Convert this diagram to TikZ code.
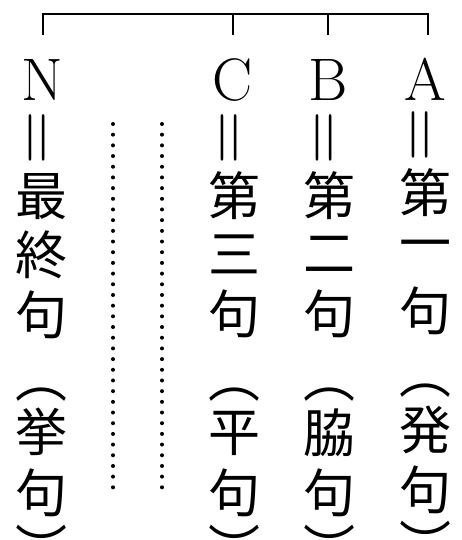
\documentclass[tikz,border=0pt]{standalone}
\usepackage{fontspec}
\newfontfamily\cjk{Noto Sans CJK JP}
\begin{document}
\begin{tikzpicture}[x=1pt,y=-1pt,
  glyph/.style={inner sep=0pt, font=\cjk\fontsize{52}{52}\selectfont},
  letter/.style={inner sep=0pt, font=\fontsize{60}{60}\selectfont},
  dbl/.style={inner sep=0pt, font=\fontsize{74}{74}\selectfont, rotate=90},
  bracketline/.style={line width=1.3pt},
  dotline/.style={line width=4pt, line cap=round, dash pattern=on 0pt off 10.686pt}]
\useasboundingbox (0,0) rectangle (462,540);
% bracket
\coordinate (tN) at (43,14);
\coordinate (tC) at (233,14);
\coordinate (tB) at (328,14);
\coordinate (tA) at (428,14);
\coordinate (bN) at (43,35);
\coordinate (bC) at (233,35);
\coordinate (bB) at (328,35);
\coordinate (bA) at (428,35);
\draw[bracketline] (bN) -- (tN) -- (tA) -- (bA);
\draw[bracketline] (tC) -- (bC);
\draw[bracketline] (tB) -- (bB);
% letters
\node[letter] (N) at (42,80) {N};
\node[letter] (C) at (233,80) {C};
\node[letter] (B) at (328,80) {B};
\node[letter] (A) at (425,79) {A};
% double bars
\node[dbl] (eN) at (42,138) {=};
\node[dbl] (eC) at (234,138) {=};
\node[dbl] (eB) at (329,138) {=};
\node[dbl] (eA) at (425,135) {=};
% column N
\node[glyph] (n1) at (42,197) {最};
\node[glyph] (n2) at (42,255) {終};
\node[glyph] (n3) at (42,315) {句};
\node[glyph] (n4) at (42,395) {︵};
\node[glyph] (n5) at (42,432) {挙};
\node[glyph] (n6) at (42,493) {句};
\node[glyph] (n7) at (42,547) {︶};
% column C
\node[glyph] (c1) at (234,196) {第};
\node[glyph] (c2) at (234,254) {三};
\node[glyph] (c3) at (234,314) {句};
\node[glyph] (c4) at (234,395) {︵};
\node[glyph] (c5) at (234,433) {平};
\node[glyph] (c6) at (234,493) {句};
\node[glyph] (c7) at (234,547) {︶};
% column B
\node[glyph] (b1) at (329,196) {第};
\node[glyph] (b2) at (329,254) {二};
\node[glyph] (b3) at (329,314) {句};
\node[glyph] (b4) at (329,395) {︵};
\node[glyph] (b5) at (329,433) {脇};
\node[glyph] (b6) at (329,493) {句};
\node[glyph] (b7) at (329,547) {︶};
% column A
\node[glyph] (a1) at (425,193) {第};
\node[glyph] (a2) at (425,251) {一};
\node[glyph] (a3) at (425,311) {句};
\node[glyph] (a4) at (425,391) {︵};
\node[glyph] (a5) at (425,430) {発};
\node[glyph] (a6) at (425,490) {句};
\node[glyph] (a7) at (425,543) {︶};
% dotted lines
\coordinate (d1s) at (113,124);
\coordinate (d1e) at (113,498);
\coordinate (d2s) at (162,124);
\coordinate (d2e) at (162,498);
\draw[dotline] (d1s) -- (d1e);
\draw[dotline] (d2s) -- (d2e);
\end{tikzpicture}
\end{document}
